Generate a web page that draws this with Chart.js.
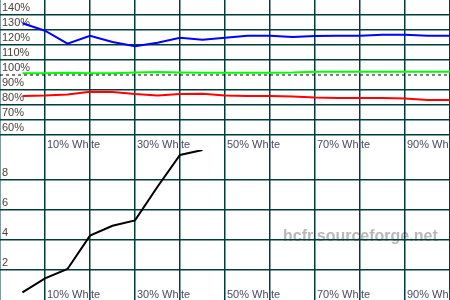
<!DOCTYPE html>
<html><head><meta charset="utf-8">
<script src="https://cdn.jsdelivr.net/npm/chart.js@4"></script>
<style>
html,body{margin:0;padding:0;background:#fff;overflow:hidden}
#wrap{position:relative;width:450px;height:300px;background:#fff}
canvas{position:absolute;left:0}
</style></head><body>
<div id="wrap">
<canvas id="levels" width="450" height="150" style="top:0"></canvas>
<canvas id="delta" width="450" height="150" style="top:150px"></canvas>
</div>
<script>
// ---- data ----
const steps = [5,10,15,20,25,30,35,40,45,50,55,60,65,70,75,80,85,90,95,100];
const redLevel   = [86.0,86.3,87.0,88.9,88.7,87.3,86.3,87.3,87.5,86.3,86.0,86.0,85.7,85.0,84.7,84.7,84.7,84.3,83.3,83.3];
const greenLevel = [101.1,101.2,101.5,101.2,101.1,101.7,102.0,101.6,101.5,101.5,101.5,101.5,101.6,102.2,102.2,102.2,102.2,102.2,102.2,102.2];
const blueLevel  = [134.5,129.5,120.9,126.2,122.0,119.1,121.5,124.9,123.5,124.9,126.2,126.2,125.3,126.0,126.2,126.2,126.9,126.9,126.2,126.2];
const refX = [0,100];
const refLevel = [100,100];
const deltaSteps = [5,10,15,20,25,30,35,40,45];
const deltaE = [0.51,1.44,2.07,4.29,4.95,5.31,7.55,9.67,10.0];
const xTickValues = [10,30,50,70,90];
const xTickLabels = ['10% White','30% White','50% White','70% White','90% White'];
const levelTickValues = [60,70,80,90,100,110,120,130,140];
const levelTickLabels = ['60%','70%','80%','90%','100%','110%','120%','130%','140%'];
const deltaTickValues = [2,4,6,8];
const deltaTickLabels = ['2','4','6','8'];

// ---- style ----
const gridColor = '#003c3c';
const gridWidth = 1.5;
const yColor = '#4a4236';
const xColor = '#4a4a66';
const font = {family:'"Liberation Sans", Arial, sans-serif', size:11};
const fontCss = '11px "Liberation Sans", Arial, sans-serif';

function pts(xs, ys){ return ys.map((y,i)=>({x:xs[i], y:y})); }
function lookup(vals, labels){ return v => { const i = vals.indexOf(v); return i < 0 ? '' : labels[i]; }; }

function xScale(){
  return {
    type:'linear', min:0, max:100, position:'bottom',
    ticks:{stepSize:10, autoSkip:false, maxRotation:0, minRotation:0, display:false},
    grid:{color:gridColor, lineWidth:gridWidth, drawTicks:false},
    border:{display:false},
    afterFit: s => { s.height = 0; s.paddingLeft = 0; s.paddingRight = 0; }
  };
}
function yScale(min, max, step, vals, labels, hidden){
  return {
    type:'linear', min:min, max:max, position:'left',
    ticks:{stepSize:step, autoSkip:false, mirror:true, padding:2, labelOffset:-7,
      color:yColor, font:font, callback: lookup(vals, labels)},
    grid:{color: c => (hidden.indexOf(c.tick.value) >= 0 ? 'rgba(0,0,0,0)' : gridColor),
      lineWidth:gridWidth, drawTicks:false},
    border:{display:false},
    afterFit: s => { s.width = 0; s.paddingTop = 0; s.paddingBottom = 0; }
  };
}
// category labels of the x scale, placed through the scale itself
const xLabels = {
  id:'xLabels',
  beforeDatasetsDraw(chart){
    const ctx = chart.ctx, sx = chart.scales.x, area = chart.chartArea;
    ctx.save();
    ctx.fillStyle = xColor;
    ctx.font = fontCss;
    ctx.textAlign = 'left';
    ctx.textBaseline = 'alphabetic';
    xTickValues.forEach((v,i) => ctx.fillText(xTickLabels[i], sx.getPixelForValue(v) + 2, area.bottom - 2));
    ctx.restore();
  }
};
const common = {
  responsive:false, animation:false, devicePixelRatio:1,
  layout:{padding:0},
  plugins:{legend:{display:false}, tooltip:{enabled:false}},
  elements:{point:{radius:0}, line:{tension:0}}
};

new Chart(document.getElementById('levels'), {
  type:'line',
  data:{datasets:[
    {data:pts(refX, refLevel), borderColor:'#000000', borderWidth:1, borderDash:[3,3]},
    {data:pts(steps, redLevel), borderColor:'#ff0000', borderWidth:2},
    {data:pts(steps, greenLevel), borderColor:'#00ff00', borderWidth:2},
    {data:pts(steps, blueLevel), borderColor:'#0000ff', borderWidth:2}
  ]},
  options:Object.assign({}, common, {
    scales:{x:xScale(), y:yScale(50,150,10, levelTickValues, levelTickLabels, [50,100,150])}
  }),
  plugins:[xLabels]
});

const watermark = {
  id:'watermark',
  beforeDraw(chart){
    const ctx = chart.ctx;
    ctx.save();
    ctx.fillStyle = '#b8b8b8';
    ctx.font = 'bold 16px "Liberation Sans", Arial, sans-serif';
    ctx.textAlign = 'left';
    ctx.textBaseline = 'alphabetic';
    ctx.fillText('hcfr.sourceforge.net', 283, 91);
    ctx.restore();
  }
};

new Chart(document.getElementById('delta'), {
  type:'line',
  data:{datasets:[
    {data:pts(deltaSteps, deltaE), borderColor:'#000000', borderWidth:2}
  ]},
  options:Object.assign({}, common, {
    scales:{x:xScale(), y:yScale(0,10,2, deltaTickValues, deltaTickLabels, [0,10])}
  }),
  plugins:[watermark, xLabels]
});
</script>
</body></html>
